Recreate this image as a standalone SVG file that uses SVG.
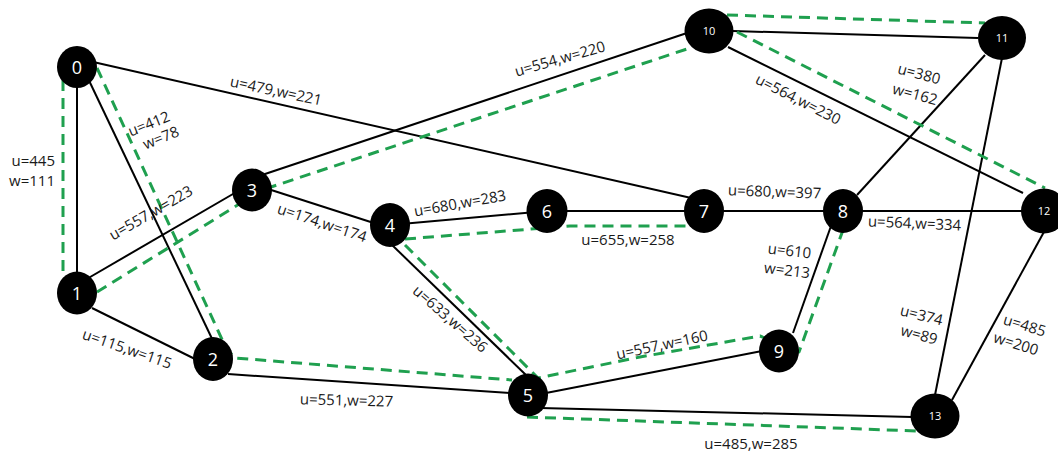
<svg xmlns="http://www.w3.org/2000/svg" width="1058" height="453" viewBox="0 0 1058 453">
<style>
.e{stroke:#000;stroke-width:2;fill:none}
.d{stroke:#1fa04f;stroke-width:3;fill:none;stroke-dasharray:11 7;stroke-linejoin:round}
.n{fill:#000}
.nt{fill:#fff;font-family:"Open Sans","Liberation Sans",sans-serif;font-size:18px;text-anchor:middle}
.ns{fill:#fff;font-family:"Open Sans","Liberation Sans",sans-serif;font-size:11px;text-anchor:middle}
.l{fill:#1a1a1a;font-family:"Open Sans","Liberation Sans",sans-serif;font-size:15px;text-anchor:middle}
</style>
<rect width="1058" height="453" fill="#fff"/>
<g id="connectors">
<line class="e" x1="77" y1="85" x2="77" y2="275"/>
<line class="e" x1="84" y1="70" x2="215" y2="345"/>
<line class="e" x1="80" y1="59" x2="700" y2="200"/>
<line class="e" x1="85" y1="280" x2="245" y2="187"/>
<line class="e" x1="92" y1="308" x2="195" y2="359"/>
<line class="e" x1="262" y1="175" x2="690" y2="32"/>
<line class="e" x1="265" y1="188" x2="380" y2="225"/>
<line class="e" x1="390" y1="225" x2="547" y2="211"/>
<line class="e" x1="547" y1="211" x2="704" y2="211"/>
<line class="e" x1="704" y1="211" x2="843" y2="211"/>
<line class="e" x1="843" y1="211" x2="1044" y2="211"/>
<line class="e" x1="390" y1="243" x2="527" y2="376"/>
<line class="e" x1="228" y1="374" x2="510" y2="393"/>
<line class="e" x1="546" y1="393" x2="762" y2="351"/>
<line class="e" x1="540" y1="408" x2="912" y2="417"/>
<line class="e" x1="793" y1="333" x2="831" y2="226"/>
<line class="e" x1="857" y1="195" x2="985" y2="55"/>
<line class="e" x1="733" y1="31" x2="978" y2="38"/>
<line class="e" x1="728" y1="47" x2="1023" y2="193"/>
<line class="e" x1="1002" y1="58" x2="935" y2="395"/>
<line class="e" x1="1045" y1="230" x2="952" y2="400"/>
<polyline class="d" points="63,80 63,278"/>
<polyline class="d" points="97,68 226,348 235,358 512,380"/>
<polyline class="d" points="97,292 262,190 693,47"/>
<polyline class="d" points="727,15 985,23"/>
<polyline class="d" points="737,32 1045,188"/>
<polyline class="d" points="405,239 570,226 688,226"/>
<polyline class="d" points="405,245 538,378 640,357 760,336 799,352 843,230"/>
<polyline class="d" points="527,417 918,431"/>
</g>
<g id="labels">
<text class="l" x="55" y="166" style="text-anchor:end">u=445</text>
<text class="l" x="55" y="186" style="text-anchor:end">w=111</text>
<text class="l" transform="translate(149,124) rotate(-22)" y="5">u=412</text>
<text class="l" transform="translate(161,138) rotate(-22)" y="5">w=78</text>
<text class="l" transform="translate(151,213) rotate(-30)" y="5">u=557,w=223</text>
<text class="l" transform="translate(127,349) rotate(19)" y="5">u=115,w=115</text>
<text class="l" transform="translate(276,91) rotate(12)" y="5">u=479,w=221</text>
<text class="l" transform="translate(560,59) rotate(-16)" y="5">u=554,w=220</text>
<text class="l" transform="translate(322,223) rotate(18.5)" y="5">u=174,w=174</text>
<text class="l" transform="translate(460,203.5) rotate(-10)" y="5">u=680,w=283</text>
<text class="l" transform="translate(628,239.5)" y="5">u=655,w=258</text>
<text class="l" transform="translate(450,319) rotate(41)" y="5">u=633,w=236</text>
<text class="l" transform="translate(346.5,400.5) rotate(1.5)" y="5">u=551,w=227</text>
<text class="l" transform="translate(662,345) rotate(-12)" y="5">u=557,w=160</text>
<text class="l" transform="translate(774.5,192) rotate(2)" y="5">u=680,w=397</text>
<text class="l" transform="translate(789.5,251) rotate(6.5)" y="5">u=610</text>
<text class="l" transform="translate(787,270.5) rotate(7)" y="5">w=213</text>
<text class="l" transform="translate(914.5,223.5) rotate(2.5)" y="5">u=564,w=334</text>
<text class="l" transform="translate(798,99.5) rotate(27)" y="5">u=564,w=230</text>
<text class="l" transform="translate(919,74) rotate(15)" y="5">u=380</text>
<text class="l" transform="translate(915,94.5) rotate(15)" y="5">w=162</text>
<text class="l" transform="translate(921.5,315.5) rotate(14)" y="5">u=374</text>
<text class="l" transform="translate(919,335) rotate(15)" y="5">w=89</text>
<text class="l" transform="translate(1024.5,325.5) rotate(17)" y="5">u=485</text>
<text class="l" transform="translate(1016,344) rotate(17)" y="5">w=200</text>
<text class="l" transform="translate(751,443.5)" y="5">u=485,w=285</text>
</g>
<g id="node0"><ellipse class="n" cx="77" cy="67" rx="20" ry="21"/><text class="nt" x="77" y="73.5">0</text></g>
<g id="node1"><ellipse class="n" cx="77" cy="293" rx="20" ry="21.5"/><text class="nt" x="77" y="299.5">1</text></g>
<g id="node2"><ellipse class="n" cx="213" cy="359" rx="20" ry="22"/><text class="nt" x="213" y="365.5">2</text></g>
<g id="node3"><ellipse class="n" cx="252" cy="190" rx="20" ry="21.5"/><text class="nt" x="252" y="196.5">3</text></g>
<g id="node4"><ellipse class="n" cx="390" cy="225" rx="20" ry="22"/><text class="nt" x="390" y="231.5">4</text></g>
<g id="node5"><ellipse class="n" cx="528" cy="395" rx="20" ry="21.5"/><text class="nt" x="528" y="401.5">5</text></g>
<g id="node6"><ellipse class="n" cx="547" cy="211" rx="20.5" ry="22"/><text class="nt" x="547" y="217.5">6</text></g>
<g id="node7"><ellipse class="n" cx="704" cy="211" rx="20" ry="22"/><text class="nt" x="704" y="217.5">7</text></g>
<g id="node8"><ellipse class="n" cx="843" cy="211" rx="20" ry="22"/><text class="nt" x="843" y="217.5">8</text></g>
<g id="node9"><ellipse class="n" cx="779" cy="351" rx="20" ry="21.5"/><text class="nt" x="779" y="357.5">9</text></g>
<g id="node10"><ellipse class="n" cx="709" cy="31" rx="24.5" ry="22.5"/><text class="ns" x="709" y="35">10</text></g>
<g id="node11"><ellipse class="n" cx="1002" cy="38" rx="24" ry="22"/><text class="ns" x="1002" y="42">11</text></g>
<g id="node12"><ellipse class="n" cx="1044" cy="211" rx="23" ry="22.5"/><text class="ns" x="1044" y="215">12</text></g>
<g id="node13"><ellipse class="n" cx="935" cy="416" rx="24.5" ry="22.5"/><text class="ns" x="935" y="420">13</text></g>
</svg>
